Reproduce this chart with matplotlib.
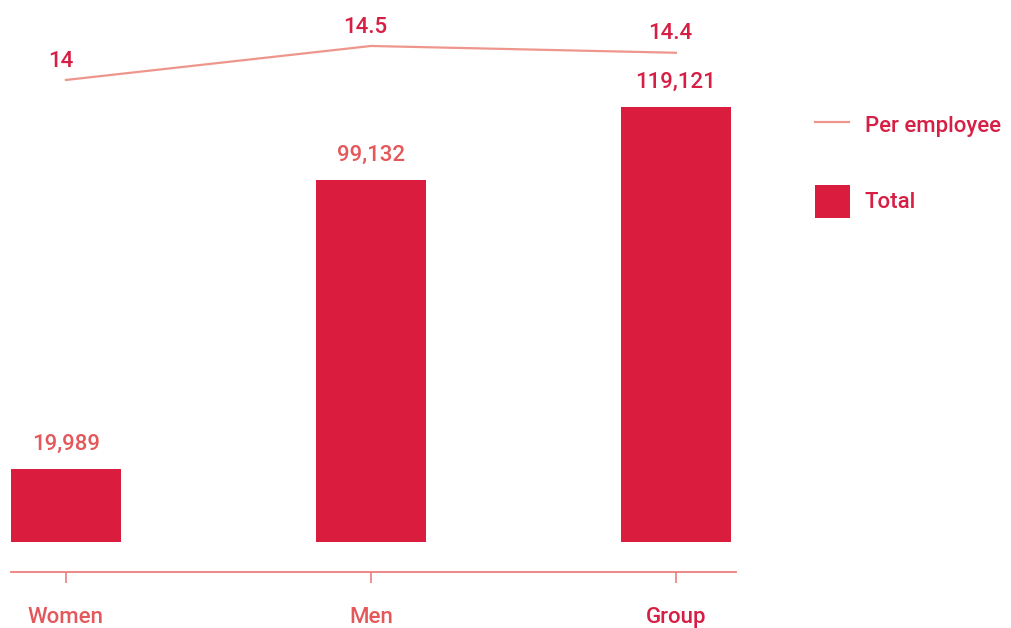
import matplotlib
matplotlib.use("Agg")
import matplotlib.pyplot as plt
from matplotlib.lines import Line2D
from matplotlib.patches import Rectangle

# Data.
categories = ["Women", "Men", "Group"]
totals = [19989, 99132, 119121]
per_employee = [14, 14.5, 14.4]
total_labels = ["19,989", "99,132", "119,121"]
per_employee_labels = ["14", "14.5", "14.4"]

bar_color = "#DA1C3F"
line_color = "#EE968C"
crimson = "#D61F44"
coral = "#E4585C"
axis_color = "#EE7E7E"
total_label_colors = [coral, coral, crimson]
cat_label_colors = [coral, coral, crimson]

plt.rcParams["font.family"] = ["Roboto", "DejaVu Sans"]
fs = 16
fw = "medium"

W, H = 1012, 628
fig = plt.figure(figsize=(W / 100, H / 100), dpi=100)

# Axes box in pixels: x from 11 to 736, y from 0 (top) to 572 (axis line).
left, right, top, bottom = 11, 736, 0, 572
ax = fig.add_axes([left / W, 1 - bottom / H, (right - left) / W, (bottom - top) / H])

x = list(range(len(categories)))
ax.bar(x, totals, width=0.36, color=bar_color, zorder=2)
ax.set_xlim(-0.180, 2.197)
ax.set_ylim(-8215, 148421)

for xi, v, lab, c in zip(x, totals, total_labels, total_label_colors):
    ax.annotate(lab, (xi, v), xytext=(0, 10), textcoords="offset points",
                ha="center", va="bottom", fontsize=fs, fontweight=fw, color=c)

for s in ["top", "right", "left"]:
    ax.spines[s].set_visible(False)
ax.spines["bottom"].set_color(axis_color)
ax.spines["bottom"].set_linewidth(1.3)
ax.set_yticks([])
ax.set_xticks(x)
ax.set_xticklabels(categories, fontsize=fs, fontweight=fw)
for t, c in zip(ax.get_xticklabels(), cat_label_colors):
    t.set_color(c)
ax.tick_params(axis="x", length=8, width=1.2, color=axis_color, pad=17)

# Per employee line on its own scale.
ax2 = ax.twinx()
ax2.plot(x, per_employee, color=line_color, linewidth=1.6, zorder=3)
ax2.set_ylim(6.765, 15.176)
ax2.axis("off")
for xi, v, lab in zip(x, per_employee, per_employee_labels):
    ax2.annotate(lab, (xi, v), xytext=(-4, 6), textcoords="offset points",
                 ha="center", va="bottom", fontsize=fs, fontweight=fw, color=crimson)

# Legend drawn by hand to match the reference placement.
fig.add_artist(Line2D([815 / W, 849 / W], [1 - 122 / H, 1 - 122 / H],
                      color=line_color, linewidth=1.6))
fig.text(865 / W, 1 - 126 / H, "Per employee", fontsize=fs, fontweight=fw,
         color=crimson, ha="left", va="center")
fig.add_artist(Rectangle((815 / W, 1 - 218 / H), 35 / W, 33 / H,
                         facecolor=bar_color, edgecolor="none"))
fig.text(865 / W, 1 - 203 / H, "Total", fontsize=fs, fontweight=fw,
         color=crimson, ha="left", va="center")

fig.savefig("out.png", dpi=100)
